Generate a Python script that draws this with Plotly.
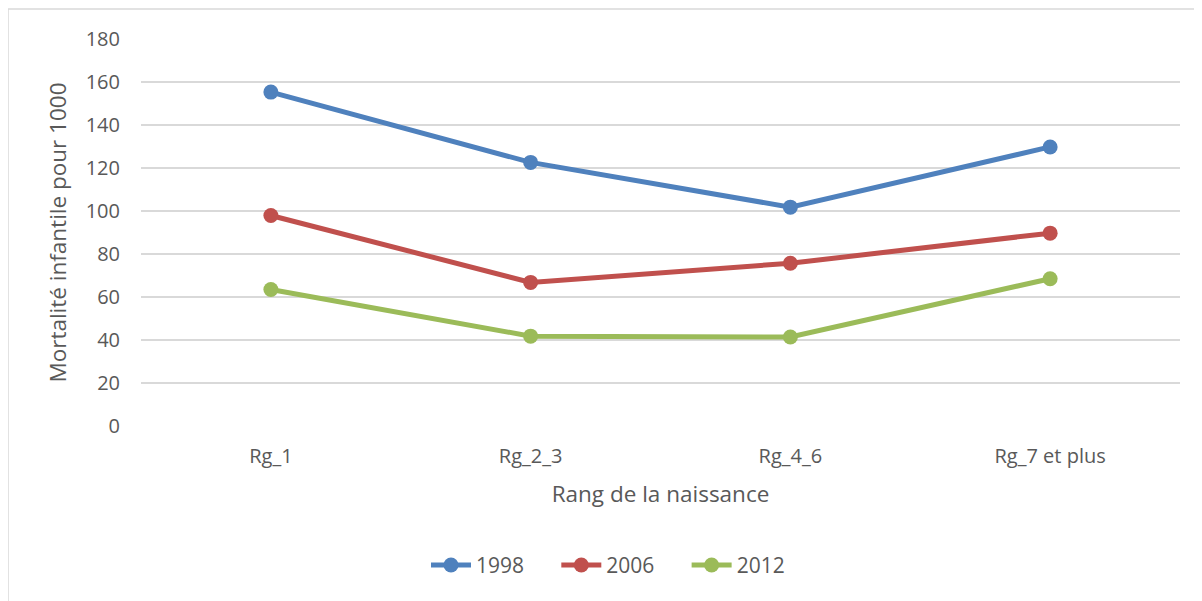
import plotly.graph_objects as go

categories = ["Rg_1", "Rg_2_3", "Rg_4_6", "Rg_7 et plus"]
series_names = ["1998", "2006", "2012"]
v1998 = [155.3, 122.6, 101.8, 129.8]
v2006 = [97.9, 66.8, 75.7, 89.7]
v2012 = [63.5, 41.8, 41.4, 68.5]
y_ticks = [0, 20, 40, 60, 80, 100, 120, 140, 160, 180]

colors = ["#4F81BD", "#C0504D", "#9BBB59"]
FONT = "Open Sans"
TXT = "#595959"
PAD = "\u00a0" * 5

fig = go.Figure()
for name, vals, c in zip(series_names, [v1998, v2006, v2012], colors):
    fig.add_trace(go.Scatter(
        x=categories, y=vals, name=name + PAD, mode="lines+markers",
        line=dict(color=c, width=5),
        marker=dict(color=c, size=15),
    ))

# page body has an 8px margin; compensate
OFF = 8
W, H = 1202 - OFF, 601 - OFF
L, T = 141 - OFF, 39 - OFF
R = W - (1180 - OFF)
B = H - (426 - OFF)
pw, ph = W - L - R, H - T - B

fig.update_layout(
    width=W, height=H,
    margin=dict(l=L, r=R, t=T, b=B),
    paper_bgcolor="white", plot_bgcolor="white",
    font=dict(family=FONT, size=20, color=TXT),
    showlegend=True,
    legend=dict(orientation="h", x=(426 - 141) / 1039, xanchor="left", y=-0.36, yanchor="middle",
                font=dict(size=21, color=TXT), tracegroupgap=0, itemwidth=40),
    xaxis=dict(
        type="category", range=[-0.5, 3.5], showgrid=False, zeroline=False,
        showline=False, ticks="", tickfont=dict(size=20, color=TXT),
        ticklabelstandoff=16,
        title=dict(text="Rang de la naissance", font=dict(size=22.5, color=TXT), standoff=18),
    ),
    yaxis=dict(
        range=[0, 180], tickvals=y_ticks, showgrid=True, gridcolor="#D9D9D9", gridwidth=1.5,
        zeroline=False, showline=False, ticks="", tickfont=dict(size=20, color=TXT),
        ticklabelstandoff=20,
        title=dict(text="Mortalité infantile pour 1000", font=dict(size=22.5, color=TXT), standoff=12),
    ),
)

# chart-area border (top and left edges visible)
x_left = (8 - 141) / pw
y_top = (426 - 9) / ph
y_bot = (426 - 601) / ph
x_right = (1202 - 141) / pw
fig.add_shape(type="line", xref="paper", yref="paper", x0=x_left, x1=x_right, y0=y_top, y1=y_top,
              line=dict(color="#D9D9D9", width=1.5))
fig.add_shape(type="line", xref="paper", yref="paper", x0=x_left, x1=x_left, y0=y_top, y1=y_bot,
              line=dict(color="#D9D9D9", width=1.5))

fig.write_html("out.html")
